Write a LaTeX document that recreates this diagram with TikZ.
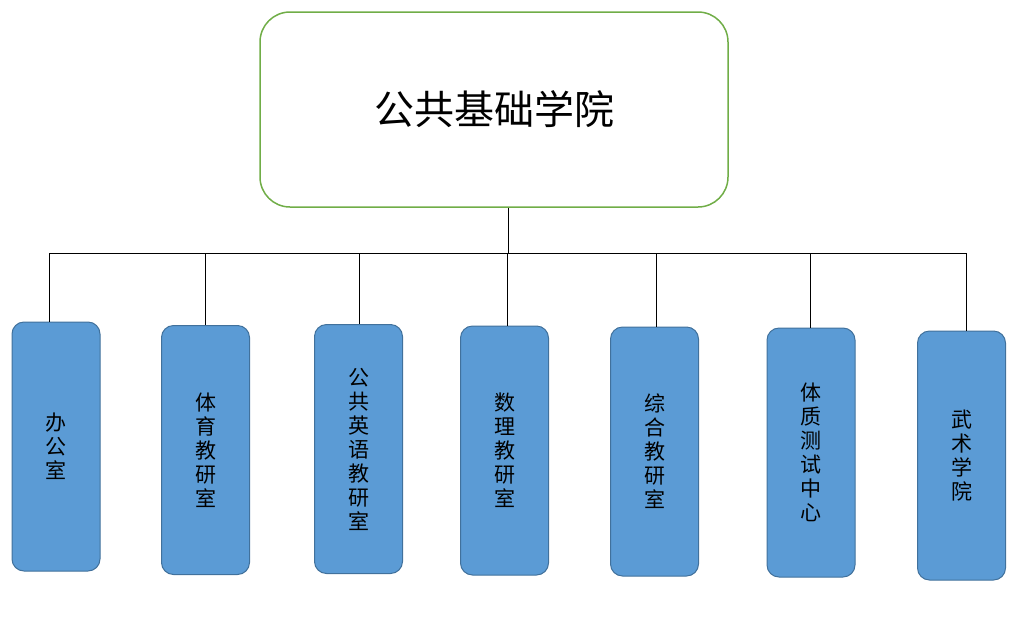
\documentclass[tikz,border=0pt]{standalone}
\usepackage{fontspec}
\newfontfamily\cjk{Noto Sans CJK SC}
\usepackage{xcolor}
\usepackage{tikz}
\usetikzlibrary{positioning}
\definecolor{deptblue}{RGB}{91,155,213}
\definecolor{deptedge}{RGB}{65,113,156}
\definecolor{rootgreen}{RGB}{112,173,71}

\begin{document}
\begin{tikzpicture}[x=1pt,y=-1pt,
  every path/.style={line width=0.8pt},
  dept/.style={rectangle,rounded corners=12pt,draw=deptedge,fill=deptblue,line width=1pt,
    minimum width=88pt,minimum height=249pt,inner sep=0pt,align=center,
    font=\cjk\fontsize{21}{24}\selectfont},
]
\useasboundingbox (0,0) rectangle (1017,619);
\node[draw=rootgreen,line width=1.5pt,rounded corners=30pt,minimum width=468pt,minimum height=195pt,
  font=\cjk\fontsize{40}{44}\selectfont](root) at(494,109.5){公共基础学院};
\node[dept](d1) at(56,446.5){办\\公\\室};
\node[dept](d2) at(205.5,450){体\\育\\教\\研\\室};
\node[dept](d3) at(358.5,449){公\\共\\英\\语\\教\\研\\室};
\node[dept](d4) at(504.5,450.5){数\\理\\教\\研\\室};
\node[dept](d5) at(654.5,451.5){综\\合\\教\\研\\室};
\node[dept](d6) at(811,452.5){体\\质\\测\\试\\中\\心};
\node[dept](d7) at(961.5,455.5){武\\术\\学\\院};
% bus
\coordinate(t) at(508,253);
\coordinate(b1) at(49,253); \coordinate(b2) at(205,253); \coordinate(b3) at(359,253);
\coordinate(b4) at(507,253); \coordinate(b5) at(656,253); \coordinate(b6) at(810,253);
\coordinate(b7) at(966,253);
\draw(t |- root.south)--(t); \draw(b1)--(b7);
\draw(b1)--(b1 |- d1.north); \draw(b2)--(b2 |- d2.north); \draw(b3)--(b3 |- d3.north);
\draw(b4)--(b4 |- d4.north); \draw(b5)--(b5 |- d5.north); \draw(b6)--(b6 |- d6.north);
\draw(b7)--(b7 |- d7.north);
\end{tikzpicture}
\end{document}
